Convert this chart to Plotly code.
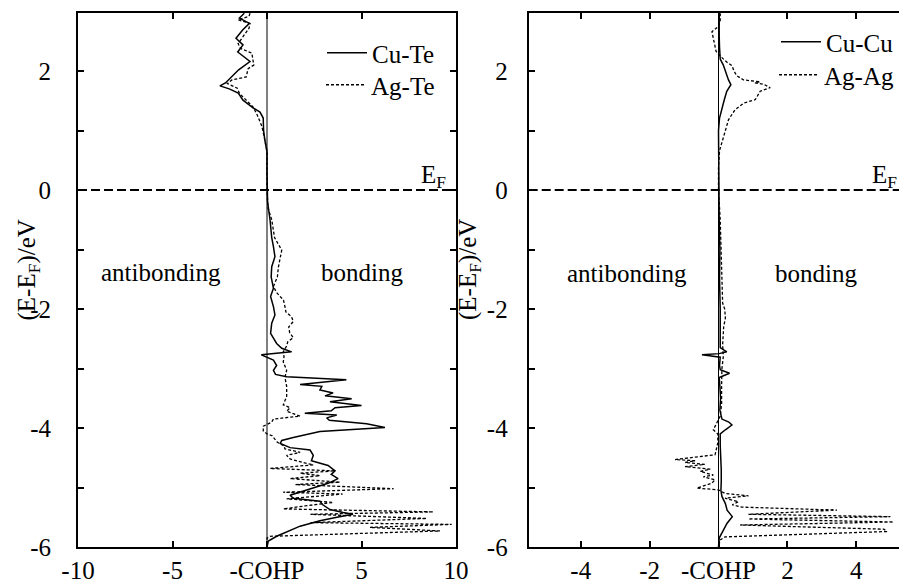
import plotly.graph_objects as go

# ---------------- data ----------------
# Left panel: Cu-Te (solid) and Ag-Te (dashed); energy (eV) and -COHP
cute_E = [2.97, 2.89, 2.80, 2.69, 2.55, 2.44, 2.32, 2.16, 2.02, 1.90, 1.80, 1.75, 1.70, 1.63,
          1.51, 1.38, 1.31, 1.21, 1.00, 0.85, 0.64, 0.30, 0.00, -0.20, -0.50, -0.80, -0.95,
          -1.12, -1.29, -1.46, -1.65, -1.79, -1.96, -2.10, -2.24, -2.41, -2.58, -2.66, -2.72,
          -2.77, -2.86, -2.95, -3.03, -3.10, -3.14, -3.19, -3.27, -3.30, -3.36, -3.41, -3.46,
          -3.51, -3.56, -3.62, -3.66, -3.71, -3.75, -3.78, -3.83, -3.87, -3.93, -3.99, -4.06,
          -4.12, -4.16, -4.21, -4.26, -4.33, -4.37, -4.46, -4.55, -4.63, -4.72, -4.78, -4.85,
          -4.93, -5.00, -5.07, -5.13, -5.18, -5.23, -5.29, -5.37, -5.42, -5.45, -5.50, -5.56,
          -5.65, -5.74, -5.82, -5.90, -6.00]
cute_v = [-1.20, -1.46, -0.93, -1.29, -1.64, -1.27, -1.55, -0.90, -1.50, -1.87, -2.20, -2.49, -2.00, -1.52,
          -1.27, -0.74, -0.37, -0.20, -0.18, -0.12, 0.00, 0.00, 0.00, 0.03, 0.16, 0.25, 0.34,
          0.42, 0.25, 0.22, 0.34, 0.19, 0.34, 0.42, 0.25, 0.19, 0.51, 0.78, 1.30,
          -0.30, 0.34, 0.51, 0.34, 0.45, 1.04, 4.20, 1.75, 2.90, 2.80, 3.50, 3.07,
          4.48, 3.33, 5.00, 3.60, 3.40, 2.00, 3.69, 3.16, 3.30, 5.27, 6.24, 2.80,
          1.90, 1.39, 0.78, 0.70, 1.22, 2.28, 2.45, 2.35, 3.23, 3.60, 3.40, 3.76,
          3.23, 2.54, 1.75, 1.22, 1.40, 2.80, 2.95, 3.33, 4.03, 4.55, 3.70, 2.80,
          1.75, 1.04, 0.51, 0.07, 0.00]

agte_E = [2.97, 2.92, 2.86, 2.80, 2.72, 2.60, 2.46, 2.38, 2.30, 2.10, 2.04, 1.90, 1.85, 1.79,
          1.71, 1.62, 1.50, 1.40, 1.28, 1.07, 0.85, 0.65, 0.00, -0.30, -0.50, -0.80, -1.01,
          -1.12, -1.30, -1.46, -1.62, -1.72, -1.85, -1.96, -2.05, -2.13, -2.21, -2.30, -2.40,
          -2.48, -2.55, -2.62, -2.72, -2.80, -2.89, -3.03, -3.15, -3.30, -3.47, -3.61, -3.66,
          -3.72, -3.80, -3.85, -3.90, -3.97, -4.05, -4.10, -4.13, -4.24, -4.30, -4.35, -4.41,
          -4.46, -4.52, -4.58, -4.62, -4.68, -4.72, -4.76, -4.80, -4.85, -4.91, -4.95, -5.02,
          -5.08, -5.11, -5.19, -5.25, -5.31, -5.36, -5.41, -5.45, -5.52, -5.59, -5.62, -5.67,
          -5.73, -5.79, -5.82, -5.85, -6.00]
agte_v = [-0.90, -0.95, -1.53, -0.90, -0.95, -1.20, -1.53, -1.40, -0.80, -0.70, -1.00, -1.10, -1.86, -2.10,
          -1.57, -1.45, -1.05, -0.75, -0.54, -0.27, -0.12, 0.00, 0.00, 0.05, 0.25, 0.40, 0.78,
          0.70, 0.60, 0.55, 0.34, 0.50, 0.87, 0.95, 1.00, 1.30, 1.39, 1.15, 1.20,
          1.39, 1.10, 1.04, 0.86, 0.90, 0.86, 1.04, 0.95, 1.04, 1.04, 0.86, 1.22,
          1.04, 1.75, 0.34, 0.25, -0.19, -0.20, 0.00, 0.27, 0.55, 0.90, 0.95, 1.75,
          1.04, 1.22, 1.90, 2.45, 0.16, 3.60, 1.75, 2.80, 1.22, 3.86, 1.50, 6.70,
          0.86, 4.00, 1.04, 3.50, 2.00, 0.86, 8.80, 2.30, 8.45, 2.30, 9.77, 5.45,
          9.15, 3.50, 0.16, 0.00, 0.00]

# Right panel: Cu-Cu (solid) and Ag-Ag (dashed)
cucu_E = [2.97, 2.80, 2.60, 2.40, 2.20, 2.10, 1.99, 1.85, 1.77, 1.66, 1.52, 1.38, 1.21, 1.00,
          0.00, -0.50, -1.00, -1.50, -2.00, -2.40, -2.65, -2.72, -2.75, -2.77, -2.81, -2.95,
          -3.02, -3.08, -3.15, -3.30, -3.50, -3.70, -3.85, -3.90, -3.95, -4.03, -4.10, -4.30,
          -4.50, -4.70, -4.90, -5.05, -5.15, -5.27, -5.38, -5.49, -5.60, -5.71, -5.85, -6.00]
cucu_v = [0.02, 0.03, 0.02, 0.03, 0.05, 0.14, 0.20, 0.29, 0.36, 0.24, 0.17, 0.10, 0.03, 0.00,
          0.00, 0.02, 0.04, 0.03, 0.05, 0.04, 0.05, 0.24, 0.02, -0.48, 0.05, 0.03,
          0.05, 0.32, 0.02, 0.04, 0.06, 0.04, 0.10, 0.30, 0.39, 0.20, 0.05, 0.05,
          0.07, 0.08, 0.08, 0.07, 0.10, 0.20, 0.25, 0.40, 0.25, 0.15, 0.02, 0.00]

agag_E = [2.97, 2.85, 2.75, 2.66, 2.55, 2.47, 2.33, 2.24, 2.15, 2.09, 2.00, 1.92, 1.85, 1.82,
          1.80, 1.78, 1.72, 1.66, 1.52, 1.46, 1.35, 1.18, 0.90, 0.66, 0.40, 0.00, -0.50,
          -1.00, -1.50, -1.90, -2.00, -2.15, -2.30, -2.60, -2.80, -3.00, -3.30, -3.60, -3.80,
          -3.93, -4.03, -4.10, -4.25, -4.45, -4.49, -4.53, -4.55, -4.58, -4.61, -4.65, -4.69,
          -4.73, -4.79, -4.82, -4.87, -4.93, -5.01, -5.04, -5.10, -5.14, -5.18, -5.24, -5.29,
          -5.33, -5.38, -5.45, -5.49, -5.53, -5.58, -5.63, -5.67, -5.70, -5.74, -5.83, -5.88,
          -6.00]
agag_v = [0.05, 0.05, 0.00, -0.19, -0.15, -0.12, -0.07, 0.07, 0.24, 0.39, 0.45, 0.53, 0.73, 1.21,
          1.05, 1.30, 1.50, 1.21, 1.07, 0.73, 0.48, 0.29, 0.14, 0.03, 0.00, 0.00, 0.05,
          0.08, 0.10, 0.12, 0.18, 0.20, 0.15, 0.12, 0.14, 0.10, 0.09, 0.09, 0.05,
          -0.05, -0.15, -0.02, -0.02, -0.10, -0.63, -1.26, -0.68, -0.97, -0.40, -0.97, -0.24,
          -0.53, -0.15, -0.44, -0.10, -0.20, -0.63, 0.00, 0.19, 0.87, 0.19, 0.58, 0.40,
          0.68, 3.44, 0.87, 4.99, 0.87, 5.08, 0.63, 2.95, 4.80, 4.89, 0.19, 0.05,
          0.00]

left_ticks = [-10, -5, 0, 5, 10]
left_ticktext = ["-10", "-5", "-COHP", "5", "10"]
right_ticks = [-4, -2, 0, 2, 4]
right_ticktext = ["-4", "-2", "-COHP", "2", "4"]
y_ticks = [-6, -4, -2, 0, 2]
y_ticktext = ["-6", "-4", "-2", "0", "2"]

# ---------------- figure ----------------
FONT = "Liberation Serif"
W, H = 899, 583
YR = [-6, 2.975]
XR1 = [-10, 10]
XR2 = [-5.51, 5.24]

solid = dict(color="black", width=1.5)
dashed = dict(color="black", width=1.3, dash="3px,2px")

fig = go.Figure()
fig.add_trace(go.Scatter(x=cute_v, y=cute_E, mode="lines", line=solid, name="Cu-Te",
                         xaxis="x", yaxis="y", legend="legend"))
fig.add_trace(go.Scatter(x=agte_v, y=agte_E, mode="lines", line=dashed, name="Ag-Te",
                         xaxis="x", yaxis="y", legend="legend2"))
fig.add_trace(go.Scatter(x=cucu_v, y=cucu_E, mode="lines", line=solid, name="Cu-Cu",
                         xaxis="x2", yaxis="y2", legend="legend3"))
fig.add_trace(go.Scatter(x=agag_v, y=agag_E, mode="lines", line=dashed, name="Ag-Ag",
                         xaxis="x2", yaxis="y2", legend="legend4"))

ydom = [(H - 547) / H, (H - 13) / H]
tickfont = dict(family=FONT, size=25, color="black")
axis_common = dict(showline=True, linecolor="black", linewidth=2, ticks="inside",
                   ticklen=6, tickwidth=1.5, tickcolor="black", showgrid=False,
                   zeroline=False, automargin=False, tickfont=tickfont)
yminor = dict(ticks="inside", tickmode="linear", tick0=-6, dtick=1, ticklen=6,
              tickwidth=1.5, tickcolor="black", showgrid=False)


def legend_at(xr_px, yc_px):
    return dict(x=xr_px / W, y=1 - yc_px / H, xanchor="right", yanchor="middle",
                bgcolor="rgba(0,0,0,0)", itemwidth=40,
                font=dict(family=FONT, size=25, color="black"))


fig.update_layout(
    width=W, height=H, margin=dict(l=0, r=0, t=0, b=0, autoexpand=False),
    paper_bgcolor="white", plot_bgcolor="white",
    xaxis=dict(domain=[78 / W, 456 / W], range=XR1, anchor="y", mirror="ticks",
               tickmode="array", tickvals=left_ticks, ticktext=left_ticktext,
               ticklabelstandoff=0, **axis_common),
    yaxis=dict(domain=ydom, range=YR, anchor="x", mirror="ticks",
               tickmode="array", tickvals=y_ticks, ticktext=y_ticktext,
               ticklabelstandoff=20, minor=yminor, **axis_common),
    xaxis2=dict(domain=[528.7 / W, 1.0], range=XR2, anchor="y2", mirror="ticks",
                tickmode="array", tickvals=right_ticks, ticktext=right_ticktext,
                ticklabelstandoff=0, **axis_common),
    yaxis2=dict(domain=ydom, range=YR, anchor="x2", mirror=False,
                tickmode="array", tickvals=y_ticks, ticktext=y_ticktext,
                ticklabelstandoff=14, minor=yminor, **axis_common),
    legend=legend_at(440, 53),
    legend2=legend_at(440, 85),
    legend3=legend_at(899, 42),
    legend4=legend_at(899, 75),
    showlegend=True,
)

shapes = []
for xref, yref, xr in [("x", "y", XR1), ("x2", "y2", XR2)]:
    shapes.append(dict(type="line", xref=xref, yref=yref, x0=xr[0], x1=xr[1], y0=0, y1=0,
                       line=dict(color="black", width=2, dash="9px,4px")))
    shapes.append(dict(type="line", xref=xref, yref=yref, x0=0, x1=0, y0=YR[0], y1=YR[1],
                       line=dict(color="black", width=1)))
fig.update_layout(shapes=shapes)

txt = dict(family=FONT, size=25, color="black")
ann = []
ann.append(dict(x=-5.6, y=-1.39, xref="x", yref="y", text="antibonding", showarrow=False, font=txt))
ann.append(dict(x=5.03, y=-1.39, xref="x", yref="y", text="bonding", showarrow=False, font=txt))
ann.append(dict(x=-2.65, y=-1.41, xref="x2", yref="y2", text="antibonding", showarrow=False, font=txt))
ann.append(dict(x=2.84, y=-1.41, xref="x2", yref="y2", text="bonding", showarrow=False, font=txt))
ann.append(dict(x=9.6, y=0, xref="x", yref="y", text="E<sub>F</sub>", showarrow=False,
                xanchor="right", yanchor="bottom", yshift=-4, font=txt))
ann.append(dict(x=5.24, y=0, xref="x2", yref="y2", text="E<sub>F</sub>", showarrow=False,
                xanchor="right", yanchor="bottom", yshift=-4, xshift=0, font=txt))
for xc in [10, 469]:
    ann.append(dict(x=xc / W, y=1 - 270 / H, xref="paper", yref="paper",
                    text="(E-E<sub>F</sub>)/eV", textangle=-90, showarrow=False, font=txt))
fig.update_layout(annotations=ann)

fig.write_html("out.html")
